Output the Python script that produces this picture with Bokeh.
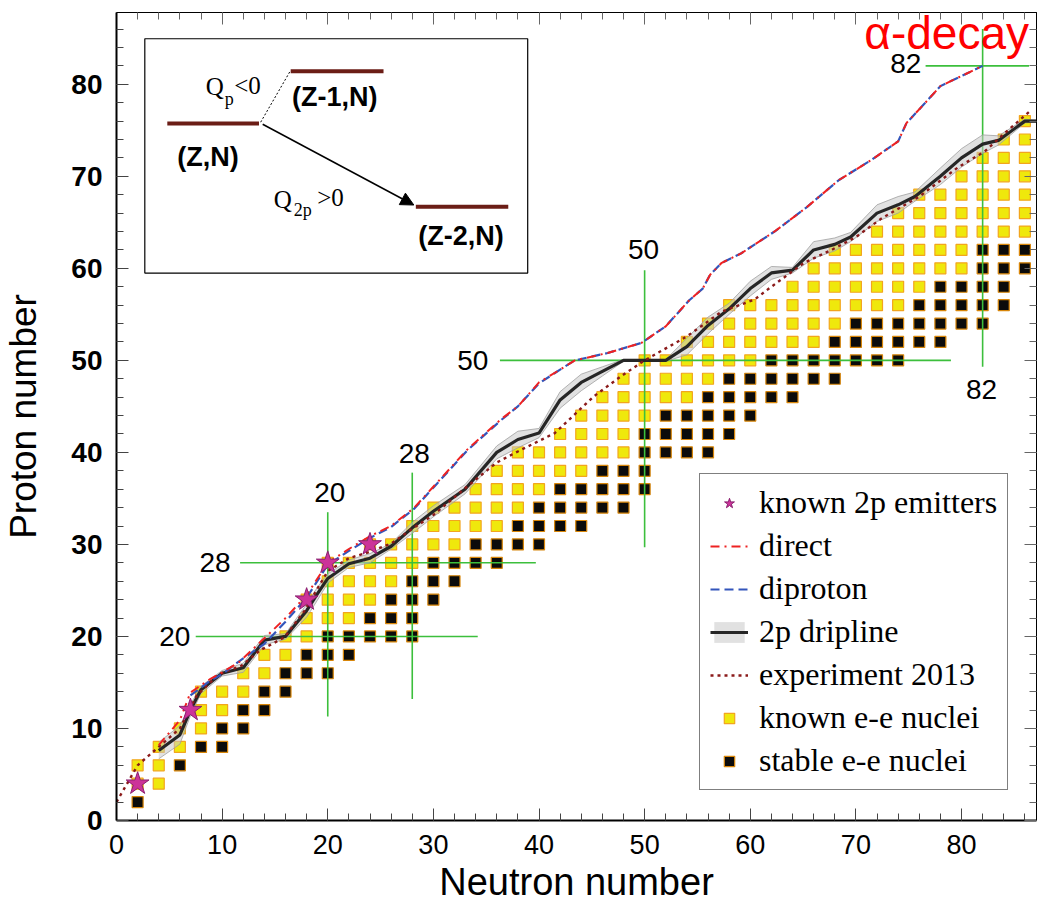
from bokeh.plotting import figure
from bokeh.models import (Range1d, LinearAxis, SingleIntervalTicker, Legend, LegendItem,
                          Label, Arrow, NormalHead)
from bokeh.embed import file_html
from bokeh.resources import INLINE

# ---------------- data ----------------
# known (unstable) even-even nuclei, listed row by row (Z, then N values)
known_ee_Z = [4, 4, 6, 6, 8, 8, 10, 10, 12, 12, 14, 14, 14, 16, 16, 18, 18, 20, 20,
              22, 22, 22, 24, 24, 24, 24, 26, 26, 26, 26, 28, 28, 28, 28, 28,
              30, 30, 30, 30, 30, 32, 32, 32, 32, 32, 34, 34, 34, 34, 34,
              36, 36, 36, 36, 38, 38, 38, 38, 38, 40, 40, 40, 40, 40, 40,
              42, 42, 42, 42, 44, 44, 44, 44, 46, 46, 46, 46, 46, 48, 48, 48, 48, 48,
              50, 50, 50, 50, 50, 50, 52, 52, 52, 52, 52, 52, 52,
              54, 54, 54, 54, 54, 54, 54, 56, 56, 56, 56, 56, 56, 56, 56, 56,
              58, 58, 58, 58, 58, 58, 58, 60, 60, 60, 60, 60, 60, 60, 60,
              62, 62, 62, 62, 62, 62, 62, 64, 64, 64, 64, 64, 64, 64, 64,
              66, 66, 66, 66, 66, 66, 66, 68, 68, 68, 68, 68, 68,
              70, 70, 70, 70, 72, 72, 72, 74, 74, 76]
known_ee_N = [2, 4, 2, 4, 4, 6, 6, 8, 8, 10, 8, 10, 12, 12, 14, 14, 16, 16, 18,
              18, 20, 22, 18, 20, 22, 24, 20, 22, 24, 26, 20, 22, 24, 26, 28,
              24, 26, 28, 30, 32, 28, 30, 32, 34, 36, 30, 32, 34, 36, 38,
              34, 36, 38, 40, 36, 38, 40, 42, 44, 38, 40, 42, 44, 46, 48,
              42, 44, 46, 48, 44, 46, 48, 50, 46, 48, 50, 52, 54, 48, 50, 52, 54, 56,
              50, 52, 54, 56, 58, 60, 54, 56, 58, 60, 62, 64, 66,
              56, 58, 60, 62, 64, 66, 68, 58, 60, 62, 64, 66, 68, 70, 72, 74,
              64, 66, 68, 70, 72, 74, 76, 66, 68, 70, 72, 74, 76, 78, 80,
              68, 70, 72, 74, 76, 78, 80, 72, 74, 76, 78, 80, 82, 84, 86,
              74, 76, 78, 80, 82, 84, 86, 76, 78, 80, 82, 84, 86,
              80, 82, 84, 86, 82, 84, 86, 84, 86, 86]

# stable even-even nuclei
stable_ee_Z = [2, 6, 8, 8, 10, 10, 12, 12, 14, 14, 16, 16, 16, 18, 18, 18,
               20, 20, 20, 20, 20, 22, 22, 22, 24, 24, 24, 26, 26, 26,
               28, 28, 28, 28, 30, 30, 30, 30, 32, 32, 32, 32,
               34, 34, 34, 34, 34, 36, 36, 36, 36, 36, 38, 38, 38,
               40, 40, 40, 40, 42, 42, 42, 42, 42, 44, 44, 44, 44, 44,
               46, 46, 46, 46, 46, 48, 48, 48, 48, 48, 48,
               50, 50, 50, 50, 50, 50, 50, 52, 52, 52, 52, 52, 52,
               54, 54, 54, 54, 54, 54, 54, 56, 56, 56, 56, 56,
               58, 58, 58, 58, 60, 60, 60, 62, 62, 62]
stable_ee_N = [2, 6, 8, 10, 10, 12, 12, 14, 14, 16, 16, 18, 20, 18, 20, 22,
               20, 22, 24, 26, 28, 24, 26, 28, 26, 28, 30, 28, 30, 32,
               30, 32, 34, 36, 34, 36, 38, 40, 38, 40, 42, 44,
               40, 42, 44, 46, 48, 42, 44, 46, 48, 50, 46, 48, 50,
               50, 52, 54, 56, 50, 52, 54, 56, 58, 52, 54, 56, 58, 60,
               56, 58, 60, 62, 64, 58, 60, 62, 64, 66, 68,
               62, 64, 66, 68, 70, 72, 74, 68, 70, 72, 74, 76, 78,
               70, 72, 74, 76, 78, 80, 82, 76, 78, 80, 82, 84,
               78, 80, 82, 84, 82, 84, 86, 82, 84, 86]

# known 2p emitters
emit_N = [2, 7, 18, 20, 24]
emit_Z = [4, 12, 24, 28, 30]

# 2p dripline with its uncertainty band (half width in Z)
drip_N = [4, 6, 7, 8, 10, 12, 14, 16, 18, 19, 20, 22, 24, 26, 28, 30, 33, 36, 38, 40,
          42, 44, 46, 48, 52, 54, 56, 58, 60, 62, 64, 66, 68, 69.5, 72, 74, 75.6, 78,
          80, 82, 83.5, 86, 87.2]
drip_Z = [7.6, 9.3, 12.0, 14.2, 16.0, 16.6, 19.6, 20.0, 22.8, 24.6, 26.3, 27.9, 28.5,
          29.8, 31.8, 33.6, 36.0, 40.0, 41.4, 42.1, 45.7, 47.6, 48.8, 50.0, 50.0, 51.5,
          53.8, 55.6, 57.8, 59.5, 59.8, 62.0, 62.6, 63.4, 66.0, 66.9, 67.8, 70.0, 72.0,
          73.5, 73.9, 76.0, 76.0]
drip_dZ = [0.9, 1.0, 0.6, 0.4, 0.3, 0.5, 0.5, 0.3, 0.7, 0.7, 0.5, 0.4, 0.5, 0.3, 0.6,
           0.6, 0.5, 0.7, 0.9, 0.5, 0.9, 0.9, 0.5, 0.1, 0.1, 0.9, 0.9, 0.6, 0.8, 0.7,
           0.3, 0.9, 0.7, 0.5, 0.9, 0.9, 0.5, 0.9, 1.0, 1.0, 0.5, 0.2, 0.1]

# direct 2p decay limit
direct_N = [4, 6, 7, 8.9, 10, 11.6, 14, 16, 18, 20, 22, 24, 26, 28.2, 30.1, 33.2, 36.4,
            38, 40, 42, 43.4, 46.5, 49.7, 52, 54.2, 55.5, 56.2, 57.3, 59.1, 62.3, 65.3,
            68.4, 71.5, 74, 74.8, 76.5, 78, 80, 82]
direct_Z = [8.2, 10.9, 13.9, 15.4, 16.1, 17.2, 19.8, 22.0, 24.5, 28.0, 29.5, 30.9, 32.0,
            34.0, 36.4, 40.3, 43.6, 45.0, 47.6, 49.0, 50.0, 50.8, 51.9, 53.7, 56.5, 57.8,
            59.3, 60.6, 61.6, 64.0, 66.6, 69.6, 71.8, 73.8, 75.8, 77.9, 79.8, 80.9, 82.0]

# diproton limit
dipro_N = [7, 8.9, 10, 11.6, 14, 16, 18, 20, 22, 24, 26, 28.2, 30.1, 33.2, 36.4,
           38, 40, 42, 43.4, 46.5, 49.7, 52, 54.2, 55.5, 56.2, 57.3, 59.1, 62.3, 65.3,
           68.4, 71.5, 74, 74.8, 76.5, 78, 80, 82]
dipro_Z = [13.6, 15.2, 15.9, 17.3, 19.2, 21.6, 24.2, 27.8, 29.3, 30.7, 31.9,
           33.9, 36.3, 40.2, 43.5, 45.0, 47.5, 49.0, 50.0, 50.8, 51.9, 53.7, 56.5, 57.8,
           59.3, 60.6, 61.6, 64.0, 66.6, 69.6, 71.8, 73.8, 75.8, 77.9, 79.8, 80.9, 82.0]

# experiment 2013
exp_N = [0, 2, 4, 6, 7.6, 9.7, 11.8, 13.6, 15.9, 17.8, 20, 22, 24, 26, 28, 30, 33.2,
         36, 38, 41.5, 45.2, 47.8, 50, 54, 57.3, 60.4, 62, 65.1, 67.7, 70, 72.4, 76,
         79.7, 82.2, 84.1, 86.6]
exp_Z = [2.0, 6.0, 8.0, 10.0, 13.6, 15.9, 16.8, 18.5, 19.9, 22.8, 27.1, 28.5, 29.2,
         30.1, 31.7, 33.2, 36.3, 38.9, 40.1, 42.1, 46.1, 48.3, 50.0, 52.6, 55.3, 56.6,
         58.0, 60.6, 62.0, 63.4, 65.4, 67.8, 71.0, 72.7, 74.7, 77.2]

# magic-number guide lines
magic_h_Z = [20, 28, 50, 82]
magic_h_N0 = [7.5, 11.7, 36.3, 76.6]
magic_h_N1 = [34.2, 39.7, 79.0, 86.4]
magic_v_N = [20, 28, 50, 82]
magic_v_Z0 = [11.3, 13.2, 29.7, 49.3]
magic_v_Z1 = [33.5, 37.8, 59.8, 86.0]

band_lo = [z - d for z, d in zip(drip_Z, drip_dZ)]
band_hi = [z + d for z, d in zip(drip_Z, drip_dZ)]

# ---------------- figure ----------------
p = figure(width=1038, height=905, x_range=Range1d(0, 87.1), y_range=Range1d(0, 87.8),
           output_backend="svg", toolbar_location=None,
           min_border_left=116, min_border_right=2, min_border_top=12, min_border_bottom=60)
p.xgrid.visible = False
p.ygrid.visible = False
p.outline_line_color = "black"
p.outline_line_width = 1
p.background_fill_color = "white"

for ax in (p.xaxis[0], p.yaxis[0]):
    ax.ticker = SingleIntervalTicker(interval=10, num_minor_ticks=5)
    ax.major_tick_in = 12
    ax.major_tick_out = 0
    ax.minor_tick_in = 7
    ax.minor_tick_out = 0
    ax.major_tick_line_color = "#444444"
    ax.minor_tick_line_color = "#444444"
    ax.axis_line_color = "black"
    ax.axis_line_width = 2
    ax.major_label_text_font = "Liberation Sans"
    ax.axis_label_text_font = "Liberation Sans"
    ax.axis_label_text_font_style = "normal"
    ax.axis_label_text_color = "black"
    ax.major_label_text_color = "black"

p.xaxis.axis_label = "Neutron number"
p.yaxis.axis_label = "Proton number"
p.xaxis.major_label_text_font_size = "27px"
p.yaxis.major_label_text_font_size = "28px"
p.yaxis.major_label_text_font_style = "bold"
p.xaxis.axis_label_text_font_size = "38px"
p.yaxis.axis_label_text_font_size = "37px"
p.xaxis.major_label_standoff = 14
p.yaxis.major_label_standoff = 14
p.xaxis.axis_label_standoff = 4
p.yaxis.axis_label_standoff = 24

for loc in ("above", "right"):
    ax = LinearAxis(ticker=SingleIntervalTicker(interval=10, num_minor_ticks=5),
                    major_label_text_font_size="1px", major_label_text_color=None,
                    major_label_standoff=0,
                    major_tick_in=12, major_tick_out=0, minor_tick_in=7, minor_tick_out=0,
                    major_tick_line_color="#666666", minor_tick_line_color="#666666",
                    axis_line_color="black", axis_line_width=1)
    p.add_layout(ax, loc)

# nuclei squares
known_r = p.scatter(known_ee_N, known_ee_Z, marker="square", size=11,
                    fill_color="#efe80c", line_color="#f2a51e", line_width=1.2)
stable_r = p.scatter(stable_ee_N, stable_ee_Z, marker="square", size=11,
                     fill_color="#0b0b0b", line_color="#d8860a", line_width=1.2)

# magic number lines
p.segment(x0=magic_h_N0, y0=magic_h_Z, x1=magic_h_N1, y1=magic_h_Z,
          line_color="#3cbf3c", line_width=1.6)
p.segment(x0=magic_v_N, y0=magic_v_Z0, x1=magic_v_N, y1=magic_v_Z1,
          line_color="#3cbf3c", line_width=1.6)

# dripline band + line
band_r = p.varea(x=drip_N, y1=band_lo, y2=band_hi, fill_color="#c8c8c8", fill_alpha=0.55)
p.line(drip_N, band_lo, line_color="#a0a0a0", line_width=0.8)
p.line(drip_N, band_hi, line_color="#a0a0a0", line_width=0.8)
drip_r = p.line(drip_N, drip_Z, line_color="#262626", line_width=3.2)

exp_r = p.line(exp_N, exp_Z, line_color="#8b1a1a", line_width=2.4, line_dash="3 4")
dipro_r = p.line(dipro_N, dipro_Z, line_color="#3355bb", line_width=2.2, line_dash="9 5")
direct_r = p.line(direct_N, direct_Z, line_color="#ee2222", line_width=2.0,
                  line_dash="9 5 2 5")

emit_r = p.scatter(emit_N, emit_Z, marker="star", size=24,
                   fill_color="#cc3399", line_color="#8a2070", line_width=1)

# magic number labels
mfont = dict(text_font="Liberation Sans", text_font_size="28px", text_color="black")
for x, y, t, al in [(7.0, 20, "20", "right"), (10.8, 28, "28", "right"),
                    (35.2, 50, "50", "right"), (76.2, 82.3, "82", "right"),
                    (20.2, 35.6, "20", "center"), (28.2, 39.9, "28", "center"),
                    (49.9, 62.0, "50", "center"), (81.9, 46.8, "82", "center")]:
    p.add_layout(Label(x=x, y=y, text=t, text_align=al, text_baseline="middle", **mfont))

p.add_layout(Label(x=70.8, y=85.6, text="α-decay", text_font="Liberation Sans",
                   text_font_size="46px", text_color="#ff0000", text_baseline="alphabetic"))

# inset diagram
p.quad(left=[2.68], right=[38.93], bottom=[59.48], top=[84.95],
       fill_color="white", line_color="black", line_width=1.2)
p.segment(x0=[4.81, 16.49, 28.34], y0=[75.74, 81.41, 66.70],
          x1=[13.49, 25.28, 37.09], y1=[75.74, 81.41, 66.70],
          line_color="#6b1d16", line_width=4)
p.line([13.65, 16.49], [75.88, 81.52], line_color="black", line_width=1, line_dash="2 2")
p.add_layout(Arrow(end=NormalHead(size=13, fill_color="black", line_color="black"),
                   x_start=13.84, y_start=75.66, x_end=28.15, y_end=66.88,
                   line_color="black", line_width=1.5))
lfont = dict(text_font="Liberation Sans", text_font_size="27px", text_font_style="bold",
             text_color="black", text_align="center", text_baseline="middle")
p.add_layout(Label(x=8.67, y=72.09, text="(Z,N)", **lfont))
p.add_layout(Label(x=20.66, y=78.59, text="(Z-1,N)", **lfont))
p.add_layout(Label(x=32.61, y=63.52, text="(Z-2,N)", **lfont))
sfont = dict(text_font="Liberation Serif", text_color="black", text_baseline="middle",
             text_align="left")
p.add_layout(Label(x=8.44, y=79.8, text="Q", text_font_size="25px", **sfont))
p.add_layout(Label(x=10.24, y=78.4, text="p", text_font_size="18px", **sfont))
p.add_layout(Label(x=11.15, y=79.9, text="<0", text_font_size="25px", **sfont))
p.add_layout(Label(x=14.88, y=67.5, text="Q", text_font_size="25px", **sfont))
p.add_layout(Label(x=16.78, y=66.3, text="2p", text_font_size="18px", **sfont))
p.add_layout(Label(x=19.0, y=67.7, text=">0", text_font_size="25px", **sfont))

# legend
legend = Legend(items=[
    LegendItem(label="known 2p emitters", renderers=[emit_r]),
    LegendItem(label="direct", renderers=[direct_r]),
    LegendItem(label="diproton", renderers=[dipro_r]),
    LegendItem(label="2p dripline", renderers=[band_r, drip_r]),
    LegendItem(label="experiment 2013", renderers=[exp_r]),
    LegendItem(label="known e-e nuclei", renderers=[known_r]),
    LegendItem(label="stable e-e nuclei", renderers=[stable_r]),
], location=(583, 30), label_text_font="Liberation Serif", label_text_font_size="32px",
    label_text_color="black",
    glyph_width=38, glyph_height=26, label_height=30, spacing=6, padding=10,
    label_standoff=11, margin=0, border_line_color="black", border_line_width=1.2,
    background_fill_alpha=1.0)
p.add_layout(legend)

open("out.html", "w").write(file_html(p, INLINE))
